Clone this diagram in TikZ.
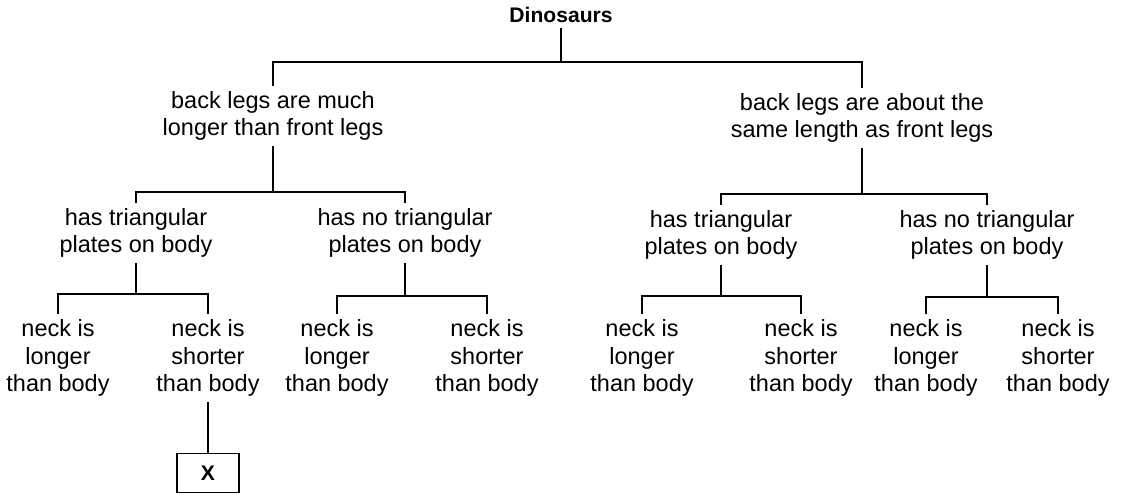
\documentclass[tikz,border=0pt]{standalone}
\usepackage{fontspec}
\setmainfont{Liberation Sans}
\usetikzlibrary{calc}

\begin{document}
\begin{tikzpicture}[x=0.025cm, y=-0.025cm, line width=1pt,
    every node/.style={font=\fontsize{16.7}{19.6}\selectfont, align=center}]
    \useasboundingbox (0,0) rectangle (1122,500);

    % Root
    \node[font=\fontsize{15}{18}\selectfont\bfseries] (dino) at (561,15) {Dinosaurs};

    % Legs
    \node (backlong) at (273,116) {back legs are much\\longer than front legs};
    \node (backsame) at (862,118) {back legs are about the\\same length as front legs};
    \coordinate (b0) at (561,62);
    \draw (dino.south) -- (b0) -| (backlong.north);
    \draw (b0) -| (backsame.north);

    % Plates, left half
    \node (platesA) at (136,233) {has triangular\\plates on body};
    \node (noplatesA) at (405,233) {has no triangular\\plates on body};
    \coordinate (b1) at (273,192);
    \draw (backlong.south) -- (b1) -| (platesA.north);
    \draw (b1) -| (noplatesA.north);

    % Plates, right half
    \node (platesB) at (721,235) {has triangular\\plates on body};
    \node (noplatesB) at (987,235) {has no triangular\\plates on body};
    \coordinate (b2) at (862,194);
    \draw (backsame.south) -- (b2) -| (platesB.north);
    \draw (b2) -| (noplatesB.north);

    % Necks
    \node (longA) at (58,358) {neck is\\longer\\than body};
    \node (shortA) at (208,358) {neck is\\shorter\\than body};
    \node (longB) at (337,358) {neck is\\longer\\than body};
    \node (shortB) at (487,358) {neck is\\shorter\\than body};
    \node (longC) at (642,358) {neck is\\longer\\than body};
    \node (shortC) at (801,358) {neck is\\shorter\\than body};
    \node (longD) at (926,358) {neck is\\longer\\than body};
    \node (shortD) at (1058,358) {neck is\\shorter\\than body};

    \coordinate (b3) at (136,294);
    \draw (platesA.south) -- (b3) -| (longA.north);
    \draw (b3) -| (shortA.north);
    \coordinate (b4) at (405,296);
    \draw (noplatesA.south) -- (b4) -| (longB.north);
    \draw (b4) -| (shortB.north);
    \coordinate (b5) at (721,296);
    \draw (platesB.south) -- (b5) -| (longC.north);
    \draw (b5) -| (shortC.north);
    \coordinate (b6) at (987,297);
    \draw (noplatesB.south) -- (b6) -| (longD.north);
    \draw (b6) -| (shortD.north);

    % Answer box
    \node[draw, minimum width=1.55cm, minimum height=0.97cm, font=\fontsize{15}{18}\selectfont\bfseries] (xbox) at (208,473) {X};
    \draw (shortA.south) -- (xbox.north);
\end{tikzpicture}
\end{document}
